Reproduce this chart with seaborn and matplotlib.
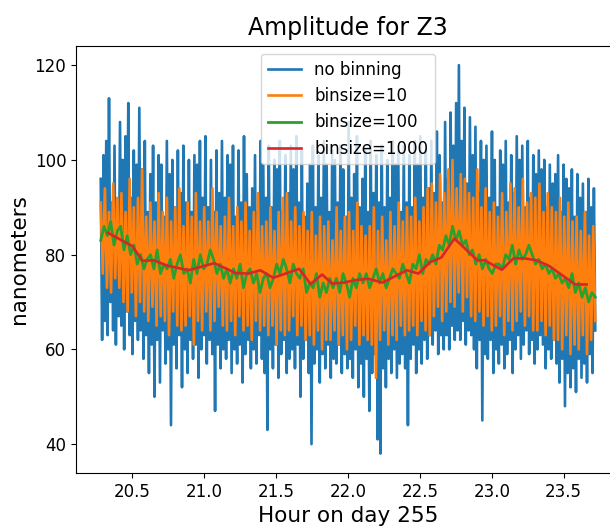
import matplotlib
matplotlib.use("Agg")
import matplotlib.pyplot as plt
import seaborn as sns
import numpy as np

# raw amplitude (high/low spikes)
no_binning = [
    96, 62, 101, 66, 104, 63, 113, 70, 91, 64,
    103, 61, 90, 67, 108, 65, 100, 60, 105, 68,
    112, 63, 92, 59, 102, 66, 99, 62, 111, 64,
    98, 58, 104, 63, 89, 55, 97, 61, 103, 50,
    91, 62, 101, 53, 99, 64, 88, 57, 104, 60,
    97, 44, 100, 61, 90, 56, 102, 63, 93, 52,
    103, 60, 91, 55, 100, 62, 89, 58, 101, 61,
    99, 54, 104, 60, 92, 63, 105, 57, 90, 62,
    100, 59, 89, 47, 102, 61, 93, 56, 104, 60,
    92, 58, 101, 62, 99, 55, 103, 60, 88, 57,
    102, 61, 91, 53, 105, 59, 97, 62, 90, 56,
    94, 60, 101, 57, 89, 63, 104, 58, 99, 55,
    92, 43, 103, 60, 90, 56, 100, 61, 98, 54,
    104, 59, 89, 62, 101, 55, 93, 58, 103, 60,
    98, 56, 105, 61, 91, 50, 102, 58, 88, 62,
    95, 55, 99, 40, 103, 57, 90, 60, 101, 53,
    92, 59, 104, 56, 99, 61, 89, 54, 102, 58,
    100, 57, 91, 61, 103, 55, 98, 59, 88, 56,
    108, 58, 92, 54, 97, 60, 105, 52, 90, 57,
    96, 50, 102, 58, 89, 47, 104, 55, 93, 59,
    101, 41, 91, 38, 103, 56, 90, 52, 100, 58,
    92, 55, 104, 60, 99, 54, 102, 57, 89, 59,
    103, 56, 91, 44, 101, 58, 90, 61, 104, 55,
    99, 60, 105, 57, 92, 62, 102, 58, 94, 63,
    104, 61, 93, 64, 106, 59, 101, 63, 91, 60,
    108, 63, 96, 60, 110, 65, 103, 62, 112, 64,
    120, 62, 104, 66, 111, 61, 95, 64, 109, 63,
    101, 60, 107, 56, 93, 62, 104, 45, 100, 59,
    103, 58, 92, 62, 106, 55, 100, 60, 90, 57,
    102, 61, 99, 56, 104, 59, 91, 62, 101, 55,
    93, 60, 105, 63, 100, 58, 103, 61, 90, 64,
    104, 59, 92, 62, 101, 57, 97, 60, 102, 63,
    98, 61, 100, 56, 90, 60, 99, 58, 95, 62,
    97, 57, 101, 53, 89, 58, 99, 48, 96, 55,
    94, 52, 98, 56, 88, 51, 97, 58, 92, 54,
    95, 57, 89, 53, 96, 59, 90, 55, 94, 64,
]

bin10 = [
    91, 76, 94, 73, 89, 72, 95, 75, 92, 73,
    93, 70, 89, 68, 96, 72, 90, 67, 92, 70,
    98, 68, 88, 66, 91, 69, 87, 65, 93, 67,
    89, 66, 92, 63, 87, 68, 90, 65, 94, 64,
    86, 65, 91, 67, 88, 61, 93, 66, 87, 64,
    90, 68, 87, 64, 94, 66, 89, 69, 86, 65,
    88, 64, 92, 66, 86, 63, 90, 67, 87, 64,
    91, 65, 85, 62, 89, 66, 93, 64, 86, 65,
    87, 63, 90, 65, 85, 61, 89, 64, 92, 63,
    93, 64, 87, 67, 90, 63, 86, 65, 89, 62,
    85, 63, 89, 61, 84, 64, 88, 60, 86, 62,
    87, 62, 83, 64, 90, 61, 85, 63, 88, 60,
    89, 62, 85, 65, 91, 61, 86, 63, 84, 62,
    86, 61, 90, 54, 85, 62, 88, 64, 83, 61,
    89, 63, 86, 62, 91, 65, 87, 63, 90, 64,
    88, 65, 92, 63, 87, 66, 90, 64, 94, 63,
    95, 67, 91, 69, 97, 66, 93, 68, 98, 70,
    100, 69, 94, 72, 97, 68, 96, 71, 93, 67,
    92, 66, 98, 68, 90, 65, 94, 67, 89, 64,
    91, 65, 88, 67, 93, 63, 89, 66, 95, 64,
    94, 66, 90, 68, 96, 65, 91, 67, 93, 64,
    92, 64, 95, 66, 89, 63, 93, 65, 90, 62,
    89, 62, 92, 60, 88, 63, 91, 59, 87, 61,
    88, 60, 85, 63, 89, 59, 84, 62, 86, 66,
]

bin100 = [
    83, 86, 84, 87, 82, 85, 86, 81, 84, 80,
    82, 78, 80, 77, 79, 80, 77, 81, 76, 78,
    77, 79, 75, 78, 80, 76, 77, 74, 79, 76,
    80, 77, 78, 81, 79, 76, 78, 75, 77, 74,
    77, 75, 78, 73, 76, 77, 74, 76, 72, 75,
    76, 73, 75, 78, 76, 79, 77, 74, 78, 76,
    75, 77, 72, 74, 73, 76, 71, 74, 72, 75,
    73, 75, 72, 76, 74, 71, 75, 73, 76, 74,
    76, 73, 75, 77, 74, 76, 73, 75, 77, 76,
    75, 78, 76, 74, 78, 77, 80, 76, 79, 78,
    80, 78, 82, 81, 84, 82, 86, 83, 85, 82,
    83, 80, 81, 78, 80, 77, 79, 77, 76, 78,
    78, 77, 80, 79, 82, 78, 81, 79, 80, 82,
    80, 78, 79, 77, 78, 76, 77, 75, 76, 74,
    75, 73, 76, 72, 74, 71, 73, 70, 72, 71,
]

hours1000 = [20.33, 20.50, 20.57, 20.65, 20.74, 20.89, 21.07, 21.22, 21.31,
             21.39, 21.48, 21.66, 21.74, 21.82, 21.89, 21.97, 22.05, 22.14,
             22.24, 22.41, 22.49, 22.57, 22.65, 22.74, 22.90, 22.95, 23.07,
             23.15, 23.23, 23.31, 23.40, 23.58, 23.66]
bin1000 = [84.6, 81.8, 78.7, 78.8, 77.7, 76.7, 78.2, 76.1, 76.0, 76.7, 75.1,
           77.0, 73.8, 75.8, 73.9, 74.1, 74.6, 74.9, 74.1, 76.7, 76.0, 78.4,
           79.4, 83.4, 78.8, 78.8, 76.8, 79.2, 79.2, 78.8, 77.6, 73.7, 73.7]

t_start, t_end = 20.28, 23.72
hours_raw = np.linspace(t_start, t_end, len(no_binning))
hours10 = np.linspace(t_start, t_end, len(bin10))
hours100 = np.linspace(t_start, t_end, len(bin100))

fig = plt.figure(figsize=(6.1, 5.31), dpi=100)
ax = fig.add_axes([0.1246, 0.1092, 0.8918, 0.8047])

sns.lineplot(x=hours_raw, y=no_binning, ax=ax, color="C0", lw=1.9, label="no binning")
sns.lineplot(x=hours10, y=bin10, ax=ax, color="C1", lw=1.9, label="binsize=10")
sns.lineplot(x=hours100, y=bin100, ax=ax, color="C2", lw=2.0, label="binsize=100")
sns.lineplot(x=hours1000, y=bin1000, ax=ax, color="C3", lw=1.9, label="binsize=1000")

ax.set_xticks([20.5, 21.0, 21.5, 22.0, 22.5, 23.0, 23.5])
ax.set_yticks([40, 60, 80, 100, 120])
ax.tick_params(labelsize=12)
ax.set_xlabel("Hour on day 255", fontsize=15.5)
ax.set_ylabel("nanometers", fontsize=15.5)
ax.set_title("Amplitude for Z3", fontsize=17, pad=8)
ax.legend(loc="upper center", fontsize=12)

fig.savefig("out.png", dpi=100)
